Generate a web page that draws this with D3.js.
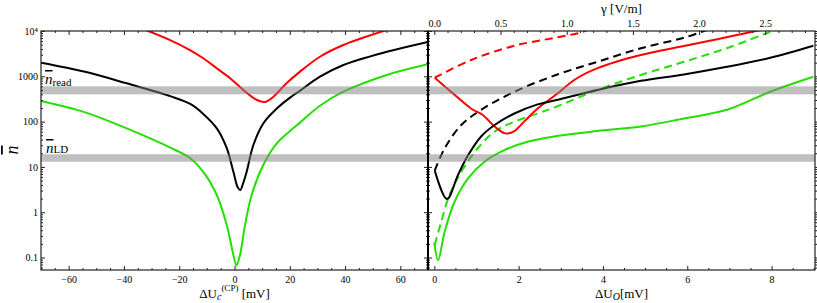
<!DOCTYPE html>
<html>
<head>
<meta charset="utf-8">
<script src="https://cdn.jsdelivr.net/npm/d3@7"></script>
<style>
  body { margin: 0; background: #fff; }
  text { font-family: "Liberation Serif", "Times New Roman", serif; fill: #000; }
</style>
</head>
<body>
<script>
// left panel: n vs dU_c^(CP) [mV]
const leftBlack = [[-70,2000],[-54,1260],[-39,700],[-23,360],[-16,245],[-11.3,148],[-6.4,71],[-2.8,26],
  [-0.4,7.8],[1.2,3.5],[2.1,3.1],[3.1,4.3],[4.4,7.8],[6.8,30],[10.4,91],[15.3,195],[20.1,339],
  [23.7,480],[30.9,980],[39.4,1780],[55.1,3470],[70,5750]];
const leftGreen = [[-70,285],[-54,160],[-39,71],[-23,26.3],[-16,15.5],[-11.3,7.8],[-6.4,2.4],[-2.8,0.52],
  [-0.4,0.114],[0.7,0.067],[2.0,0.114],[3.8,0.52],[6.2,2.4],[10.4,11],[15.3,33],[20.1,62],[23.7,95],
  [30.9,224],[39.4,457],[55.1,1070],[70,1840]];
const leftRed = [[-33,11000],[-23.3,6300],[-16.1,3800],[-11.3,2500],[-6.4,1500],[-1.6,910],[3.2,500],
  [8.1,300],[11.1,272],[14.1,355],[18.9,708],[23.7,1270],[30.9,2700],[39.4,4900],[56,11000]];

// right panel: n vs dU_O [mV]
const rightRedDash = [[0.01,930],[0.87,2290],[1.9,4730],[2.9,7200],[3.48,9300],[3.65,10800]];
const rightRed = [[0.01,930],[0.48,390],[0.87,195],[1.15,140],[1.43,78],[1.68,55],[1.9,62],[2.13,100],
  [2.45,195],[2.9,400],[3.32,830],[3.87,1510],[4.9,2950],[5.92,4650],[6.71,6600],[7.8,10800]];
const rightBlackDash = [[0.01,8.3],[0.245,25.7],[0.64,84],[1.11,182],[1.9,457],[2.9,1080],[3.87,2090],
  [4.9,4170],[5.92,7080],[6.5,10800]];
const rightBlack = [[0.01,8.3],[0.3,1.95],[0.56,6.6],[0.8,18],[1.11,47],[1.43,84],[1.9,151],[2.45,240],
  [2.9,300],[3.87,500],[4.9,794],[5.92,1100],[6.94,1620],[7.97,2570],[8.99,4730]];
const rightGreenDash = [[0.01,0.19],[0.165,0.62],[0.36,2.4],[0.64,7.8],[1.03,25.7],[1.43,60],[1.9,100],
  [2.45,151],[2.9,214],[3.87,500],[4.9,1070],[5.92,2090],[6.94,4170],[7.97,9660],[8.1,10800]];
const rightGreen = [[0.0,0.21],[0.09,0.087],[0.245,0.37],[0.48,1.7],[0.8,5.6],[1.19,13],[1.66,23.4],
  [2.21,36],[2.9,48],[3.87,62],[4.9,78],[5.92,117],[6.94,182],[7.97,457],[8.99,977]];

const bands = [[400, 600], [13, 19]];
const yTicks = [0.1, 1, 10, 100, 1000, 10000];
const yTickLabels = ["0.1", "1", "10", "100", "1000", "10⁴"];
const leftXTicks = [-60, -40, -20, 0, 20, 40, 60];
const rightXTicks = [0, 2, 4, 6, 8];
const gammaTicks = [0, 0.5, 1, 1.5, 2, 2.5];
const mVPerGamma = 3.14;

const width = 817, height = 303;
const plotTop = 31, plotBottom = 270;
const leftX0 = 41, mid = 428, rightX1 = 815;

const red = "#ff0000", green = "#22e000", black = "#000";

const svg = d3.select("body").append("svg")
  .attr("width", width).attr("height", height)
  .style("display", "block");

const y = d3.scaleLog().domain([0.053, 10000]).range([plotBottom, plotTop]);
const xl = d3.scaleLinear().domain([-70, 70]).range([leftX0, mid]);
const xr = d3.scaleLinear().domain([-0.15, 9.03]).range([mid, rightX1]);
const xg = d3.scaleLinear().domain(xr.domain().map(v => v / mVPerGamma)).range([mid, rightX1]);

const yMinor = [];
for (let e = -2; e <= 3; e++) for (let k = 2; k <= 9; k++) {
  const v = k * Math.pow(10, e);
  if (v > y.domain()[0] && v < y.domain()[1]) yMinor.push(v);
}

// clip paths
const defs = svg.append("defs");
defs.append("clipPath").attr("id", "clipL").append("rect")
  .attr("x", leftX0).attr("y", plotTop).attr("width", mid - leftX0).attr("height", plotBottom - plotTop);
defs.append("clipPath").attr("id", "clipR").append("rect")
  .attr("x", mid).attr("y", plotTop).attr("width", rightX1 - mid).attr("height", plotBottom - plotTop);

function drawCurves(clip, x, series) {
  const g = svg.append("g").attr("clip-path", `url(#${clip})`);
  const line = d3.line().x(d => x(d[0])).y(d => y(d[1])).curve(d3.curveCatmullRom.alpha(0.5));
  series.forEach(s => {
    g.append("path")
      .attr("d", line(s.data))
      .attr("fill", "none")
      .attr("stroke", s.color)
      .attr("stroke-width", 2)
      .attr("stroke-dasharray", s.dash ? "8,5" : null)
      .attr("stroke-linejoin", "round");
  });
}

drawCurves("clipL", xl, [
  { data: leftRed, color: red },
  { data: leftBlack, color: black },
  { data: leftGreen, color: green },
]);
drawCurves("clipR", xr, [
  { data: rightRedDash, color: red, dash: true },
  { data: rightBlackDash, color: black, dash: true },
  { data: rightGreenDash, color: green, dash: true },
  { data: rightRed, color: red },
  { data: rightBlack, color: black },
  { data: rightGreen, color: green },
]);

// gray bands (semi-transparent, over the curves)
svg.append("g").selectAll("rect").data(bands).join("rect")
  .attr("x", leftX0).attr("width", rightX1 - leftX0)
  .attr("y", d => y(d[1])).attr("height", d => y(d[0]) - y(d[1]))
  .attr("fill", "#808080").attr("fill-opacity", 0.5);

// axes
function axis(gen, tx, ty, ticks, size, fmt) {
  const g = svg.append("g").attr("transform", `translate(${tx},${ty})`)
    .call(gen.tickValues(ticks).tickSizeInner(size).tickSizeOuter(0)
      .tickFormat(fmt || "").tickPadding(3));
  g.select(".domain").remove();
  g.selectAll("line").attr("stroke", "#222");
  g.selectAll("text").attr("font-size", 10).attr("font-family", null);
  return g;
}

const leftMinorX = d3.range(-70, 71, 5).filter(v => !leftXTicks.includes(v));
const rightMinorX = d3.range(0, 9.01, 0.5).filter(v => !rightXTicks.includes(v));
const gammaMinor = d3.range(0, 2.91, 0.1).map(v => +v.toFixed(1)).filter(v => !gammaTicks.includes(v));

// left panel
axis(d3.axisBottom(xl), 0, plotBottom, leftXTicks, -4, d3.format("d")).selectAll("text").attr("dy", "0.95em");
axis(d3.axisBottom(xl), 0, plotBottom, leftMinorX, -2);
axis(d3.axisTop(xl), 0, plotTop, leftXTicks, -4);
axis(d3.axisTop(xl), 0, plotTop, leftMinorX, -2);
const yl = axis(d3.axisLeft(y), leftX0, 0, yTicks, -4, (d, i) => yTickLabels[i]);
yl.selectAll("text").attr("x", -3);
axis(d3.axisLeft(y), leftX0, 0, yMinor, -2);
axis(d3.axisRight(y), mid, 0, yTicks, -4);
axis(d3.axisRight(y), mid, 0, yMinor, -2);

// right panel
axis(d3.axisBottom(xr), 0, plotBottom, rightXTicks, -4, d3.format("d")).selectAll("text").attr("dy", "0.95em");
axis(d3.axisBottom(xr), 0, plotBottom, rightMinorX, -2);
axis(d3.axisTop(xg), 0, plotTop, gammaTicks, -4, d3.format(".1f")).selectAll("text").attr("y", -4);
axis(d3.axisTop(xg), 0, plotTop, gammaMinor, -2);
axis(d3.axisRight(y), mid, 0, yTicks, 4);
axis(d3.axisRight(y), mid, 0, yMinor, 2);
axis(d3.axisLeft(y), rightX1, 0, yTicks, -4);
axis(d3.axisLeft(y), rightX1, 0, yMinor, -2);

// frames
[[leftX0, mid], [mid, rightX1]].forEach(([a, b]) => {
  svg.append("rect").attr("x", a).attr("y", plotTop).attr("width", b - a).attr("height", plotBottom - plotTop)
    .attr("fill", "none").attr("stroke", "#222").attr("stroke-width", 1.2);
});
svg.append("line").attr("x1", mid).attr("x2", mid).attr("y1", plotTop).attr("y2", plotBottom)
  .attr("stroke", "#000").attr("stroke-width", 2);

// band labels
function nbar(x, yb, sub, subDy) {
  const t = svg.append("text").attr("x", x).attr("y", yb);
  t.append("tspan").text("n").attr("font-style", "italic").attr("font-size", 15)
    .style("text-decoration", "overline");
  t.append("tspan").text(sub).attr("font-size", 11).attr("dy", subDy);
}
nbar(45, 84, "read", 2);
nbar(46, 153, "LD", 0);

// axis titles
const tl = svg.append("text").attr("x", xl(0)).attr("y", 298).attr("text-anchor", "middle").attr("font-size", 13);
tl.append("tspan").text("ΔU");
tl.append("tspan").text("c").attr("font-style", "italic").attr("font-size", 10).attr("dy", 2);
tl.append("tspan").text("(CP)").attr("font-size", 9).attr("dy", -9);
tl.append("tspan").text(" [mV]").attr("dy", 7);

const tr = svg.append("text").attr("x", (mid + rightX1) / 2).attr("y", 298).attr("text-anchor", "middle").attr("font-size", 13);
tr.append("tspan").text("ΔU");
tr.append("tspan").text("O").attr("font-style", "italic").attr("font-size", 10).attr("dy", 2);
tr.append("tspan").text("[mV]").attr("dy", -2);

svg.append("text").attr("x", (mid + rightX1) / 2).attr("y", 13).attr("text-anchor", "middle")
  .attr("font-size", 13).text("γ [V/m]");

svg.append("text").attr("transform", "translate(18,150) rotate(-90)").attr("text-anchor", "middle")
  .attr("font-size", 18).attr("font-style", "italic").style("text-decoration", "overline").text("n");
</script>
</body>
</html>
